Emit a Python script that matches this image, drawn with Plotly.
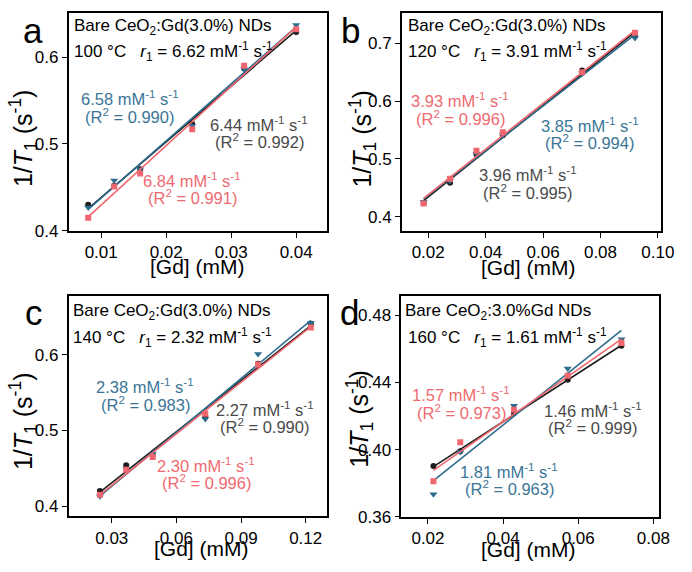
import numpy as np
import plotly.graph_objects as go

W, H = 692, 572

# ---------------- data ----------------
x_a = [0.008, 0.012, 0.016, 0.024, 0.032, 0.040]
black_a = [0.430, 0.452, 0.471, 0.523, 0.587, 0.629]
blue_a = [0.427, 0.458, 0.471, 0.521, 0.586, 0.637]
red_a = [0.415, 0.451, 0.466, 0.517, 0.590, 0.632]

x_b = [0.0184, 0.0276, 0.0368, 0.046, 0.0736, 0.092]
black_b = [0.424, 0.459, 0.508, 0.541, 0.653, 0.712]
blue_b = [0.426, 0.462, 0.509, 0.542, 0.648, 0.709]
red_b = [0.423, 0.466, 0.514, 0.546, 0.650, 0.718]

x_c = [0.0245, 0.0367, 0.049, 0.0734, 0.0979, 0.1224]
black_c = [0.420, 0.454, 0.468, 0.518, 0.588, 0.641]
blue_c = [0.413, 0.449, 0.469, 0.515, 0.601, 0.642]
red_c = [0.415, 0.448, 0.465, 0.522, 0.587, 0.636]

x_d = [0.02145, 0.0286, 0.0429, 0.0572, 0.0715]
black_d = [0.3903, 0.3990, 0.4218, 0.4416, 0.4619]
blue_d = [0.3735, 0.3986, 0.4261, 0.4484, 0.4658]
red_d = [0.3812, 0.4044, 0.4238, 0.4441, 0.4635]

titles = ["Bare CeO<sub>2</sub>:Gd(3.0%) NDs", "Bare CeO<sub>2</sub>:Gd(3.0%) NDs",
          "Bare CeO<sub>2</sub>:Gd(3.0%) NDs", "Bare CeO<sub>2</sub>:3.0%Gd NDs"]
temps = ["100 °C", "120 °C", "140 °C", "160 °C"]
r1_vals = ["6.62", "3.91", "2.32", "1.61"]
slopes = {  # panel: (black, blue, red)
    "a": (("6.44", "0.992"), ("6.58", "0.990"), ("6.84", "0.991")),
    "b": (("3.96", "0.995"), ("3.85", "0.994"), ("3.93", "0.996")),
    "c": (("2.27", "0.990"), ("2.38", "0.983"), ("2.30", "0.996")),
    "d": (("1.46", "0.999"), ("1.81", "0.963"), ("1.57", "0.973")),
}

# ---------------- style ----------------
FONT = "Liberation Sans, Arial, sans-serif"
C_BLACK = "#1c1c1c"
C_BLUE = "#2d6c8c"
C_RED = "#f0666e"
T_GRAY = "#4a4a4a"
T_BLUE = "#3a7597"
T_RED = "#ee6a70"

panels = {
    "a": dict(x=x_a, ys=(black_a, blue_a, red_a), box=(70, 333, 13, 235),
              xr=[0.005, 0.0447], yr=[0.4, 0.651], xt=[0.01, 0.02, 0.03, 0.04], yt=[0.4, 0.5, 0.6],
              xf=".2f", yf=".1f"),
    "b": dict(x=x_b, ys=(black_b, blue_b, red_b), box=(409.5, 674, 13, 235),
              xr=[0.0108, 0.1012], yr=[0.3757, 0.7527], xt=[0.02, 0.04, 0.06, 0.08, 0.10], yt=[0.4, 0.5, 0.6, 0.7],
              xf=".2f", yf=".1f"),
    "c": dict(x=x_c, ys=(black_c, blue_c, red_c), box=(70, 333.5, 301, 525.5),
              xr=[0.01, 0.13], yr=[0.3866, 0.678], xt=[0.03, 0.06, 0.09, 0.12], yt=[0.4, 0.5, 0.6],
              xf=".2f", yf=".1f"),
    "d": dict(x=x_d, ys=(black_d, blue_d, red_d), box=(409, 672, 301, 526),
              xr=[0.0129, 0.0816], yr=[0.36, 0.4917], xt=[0.02, 0.04, 0.06, 0.08], yt=[0.36, 0.40, 0.44, 0.48],
              xf=".2f", yf=".2f"),
}

fig = go.Figure()
layout = dict(width=W, height=H, margin=dict(l=0, r=0, t=0, b=0),
              paper_bgcolor="white", plot_bgcolor="white", showlegend=False,
              font=dict(family=FONT, size=17, color="black"))
annotations = []


def P(px, py):
    return px / W, 1 - py / H


def ann(text, px, py, size=17, color="black", xanchor="center", angle=0):
    x, y = P(px, py)
    annotations.append(dict(text=text, x=x, y=y, xref="paper", yref="paper", showarrow=False,
                            xanchor=xanchor, yanchor="middle", textangle=angle,
                            font=dict(family=FONT, size=size, color=color)))


series_style = [
    (C_BLACK, "circle", 6),
    (C_BLUE, "triangle-down", 7),
    (C_RED, "square", 6),
]

for i, (key, p) in enumerate(panels.items()):
    n = "" if i == 0 else str(i + 1)
    xa, ya = "x" + n, "y" + n
    l, r, t, b = p["box"]
    layout["xaxis" + n] = dict(domain=[l / W, r / W], anchor=ya, range=p["xr"], tickvals=p["xt"],
                               tickformat=p["xf"], showline=True, linecolor="black", linewidth=1.6,
                               mirror=True, ticks="outside", ticklen=5, tickwidth=1.4, tickcolor="black",
                               showgrid=False, zeroline=False,
                               tickfont=dict(family=FONT, size=17, color="black"))
    layout["yaxis" + n] = dict(domain=[1 - b / H, 1 - t / H], anchor=xa, range=p["yr"], tickvals=p["yt"],
                               tickformat=p["yf"], showline=True, linecolor="black", linewidth=1.6,
                               mirror=True, ticks="outside", ticklen=5, tickwidth=1.4, tickcolor="black",
                               showgrid=False, zeroline=False,
                               tickfont=dict(family=FONT, size=17, color="black"))
    xs = np.array(p["x"])
    for ys, (col, sym, sz) in zip(p["ys"], series_style):
        ys = np.array(ys)
        k, c0 = np.polyfit(xs, ys, 1)
        xl = np.array([xs.min(), xs.max()])
        fig.add_trace(go.Scatter(x=xl, y=k * xl + c0, mode="lines", xaxis=xa, yaxis=ya,
                                 line=dict(color=col, width=1.6), hoverinfo="skip"))
        fig.add_trace(go.Scatter(x=xs, y=ys, mode="markers", xaxis=xa, yaxis=ya,
                                 marker=dict(color=col, symbol=sym, size=sz, line=dict(width=0))))

# ---------------- text ----------------
ytitle = "1/<i>T</i><sub>1</sub> (s<sup>-1</sup>)"
xtitle = "[Gd] (mM)"
unit = " mM<sup>-1</sup> s<sup>-1</sup>"

# panel letters
ann("a", 34, 31.5, size=35)
ann("b", 357.5, 31.5, size=35)
ann("c", 35, 318.5, size=35)
ann("d", 356, 318.5, size=35)

# axis titles
for (cx, cy) in [(23, 141), (369, 141), (23, 429), (366, 426)]:
    ann(ytitle, cx, cy, size=25, angle=-90)
for (cx, cy) in [(201.5, 271), (538.5, 272), (205, 558), (539, 559)]:
    ann(xtitle, cx, cy, size=21)

# headers
hdr = [((73, 27), (73, 52)), ((414, 27), (414, 52)), ((72, 318), (72, 343)), ((411, 318), (414, 343))]
for (t_pos, r_pos), title, temp, r1 in zip(hdr, titles, temps, r1_vals):
    ann(title, t_pos[0], t_pos[1], xanchor="left")
    ann(temp + "&nbsp;&nbsp;&nbsp;<i>r</i><sub>1</sub> = " + r1 + unit, r_pos[0], r_pos[1], xanchor="left")

# fit labels: center x, y of first line
fit_pos = {
    "a": [(264, 126), (132, 100), (196, 183)],
    "b": [(538, 177), (601, 127), (469, 102)],
    "c": [(270, 416), (148, 393), (210, 473)],
    "d": [(604, 417), (519, 479), (470, 401)],
}
tcols = [T_GRAY, T_BLUE, T_RED]
for key, poss in fit_pos.items():
    for (s, r2), (cx, cy), tc in zip(slopes[key], poss, tcols):
        ann(s + unit, cx, cy, size=16.5, color=tc)
        ann("(R<sup>2</sup> = " + r2 + ")", cx, cy + 18, size=16.5, color=tc)

layout["annotations"] = annotations
fig.update_layout(**layout)
fig.write_html("out.html")
